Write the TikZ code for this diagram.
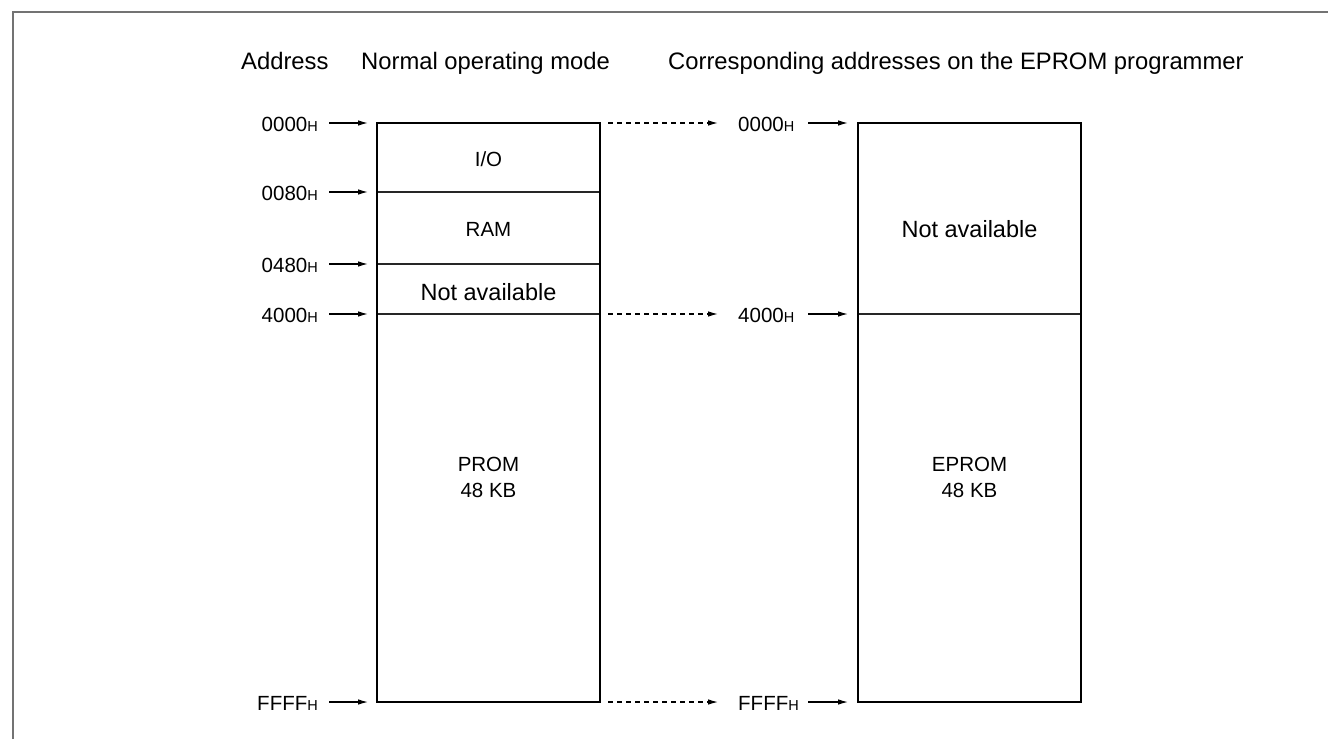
\documentclass[tikz,border=0pt]{standalone}
\usepackage{fontspec}
\setmainfont{Liberation Sans}
\usetikzlibrary{arrows.meta}
\begin{document}
\begin{tikzpicture}[x=1pt,y=-1pt,
  hdr/.style={font=\fontsize{23.8}{28}\selectfont, inner sep=0pt, anchor=base west},
  big/.style={font=\fontsize{23.5}{28}\selectfont, inner sep=0pt, anchor=base},
  lbl/.style={font=\fontsize{20.5}{24}\selectfont, inner sep=0pt, anchor=base, align=center},
  addr/.style={font=\fontsize{20.5}{24}\selectfont, inner sep=0pt},
  membox/.style={draw, line width=2.8pt},
  sep/.style={line width=1.1pt, draw=black!85},
  arr/.style={line width=1.1pt, -{Latex[length=10pt,width=5.5pt]}},
  darr/.style={arr, dash pattern=on 5pt off 4pt},
  frame/.style={draw=black!55, line width=1.4pt}
]
\useasboundingbox (0,0) rectangle (1328,739);
\newcommand{\hx}{{\fontsize{14.5}{16}\selectfont H}}
% frame
\draw[frame] (13,739) -- (13,12) -- (1328,12);
% headers
\node[hdr] (hA) at (241,69) {Address};
\node[hdr] (hN) at (361,69) {Normal operating mode};
\node[hdr] (hC) at (668,69) {Corresponding addresses on the EPROM programmer};
% boxes
\coordinate (L0) at (377,123);
\coordinate (Lr0) at (600,123);
\coordinate (L1) at (377,192);
\coordinate (Lr1) at (600,192);
\coordinate (L2) at (377,264);
\coordinate (Lr2) at (600,264);
\coordinate (L3) at (377,314);
\coordinate (Lr3) at (600,314);
\coordinate (L4) at (377,702);
\coordinate (Lr4) at (600,702);
\coordinate (R0) at (858,123);
\coordinate (Rr0) at (1081,123);
\coordinate (R3) at (858,314);
\coordinate (Rr3) at (1081,314);
\coordinate (R4) at (858,702);
\draw[sep] (L1) -- (Lr1);
\draw[sep] (L2) -- (Lr2);
\draw[sep] (L3) -- (Lr3);
\draw[sep] (R3) -- (Rr3);
\draw[membox] (L0) rectangle (Lr4);
\draw[membox] (R0) rectangle (1081,702);
% box texts
\node[lbl] (io) at (488.5,166.5) {I/O};
\node[lbl] (ram) at (488.5,236.5) {RAM};
\node[big] (na1) at (488.5,300) {Not available};
\node[lbl] (prom) at (488.5,497) {PROM\\[2pt]48 KB};
\node[big] (na2) at (969.5,237) {Not available};
\node[lbl] (eprom) at (969.5,497) {EPROM\\[2pt]48 KB};
% left address labels
\node[addr, anchor=east] (a0) at (318,124) {0000\hx};
\node[addr, anchor=east] (a1) at (318,193) {0080\hx};
\node[addr, anchor=east] (a2) at (318,265) {0480\hx};
\node[addr, anchor=east] (a3) at (318,315) {4000\hx};
\node[addr, anchor=east] (a4) at (318,703) {FFFF\hx};
\foreach \n/\c in {a0/L0,a1/L1,a2/L2,a3/L3,a4/L4}
  \draw[arr] ([xshift=11pt]\n.east |- \c) -- ([xshift=-9pt]\c);
% middle address labels
\node[addr, anchor=west] (m0) at (738,124) {0000\hx};
\node[addr, anchor=west] (m3) at (738,315) {4000\hx};
\node[addr, anchor=west] (m4) at (738,703) {FFFF\hx};
\draw[darr] ([xshift=8pt]Lr0) -- ([xshift=-20pt]m0.west |- Lr0);
\draw[darr] ([xshift=8pt]Lr3) -- ([xshift=-20pt]m3.west |- Lr3);
\draw[darr] ([xshift=8pt]Lr4) -- ([xshift=-20pt]m4.west |- Lr4);
\draw[arr] ([xshift=14pt]m0.east |- R0) -- ([xshift=-10pt]R0);
\draw[arr] ([xshift=14pt]m3.east |- R3) -- ([xshift=-10pt]R3);
\draw[arr] ([xshift=14pt]m0.east |- R4) -- ([xshift=-10pt]R4);
\end{tikzpicture}
\end{document}
